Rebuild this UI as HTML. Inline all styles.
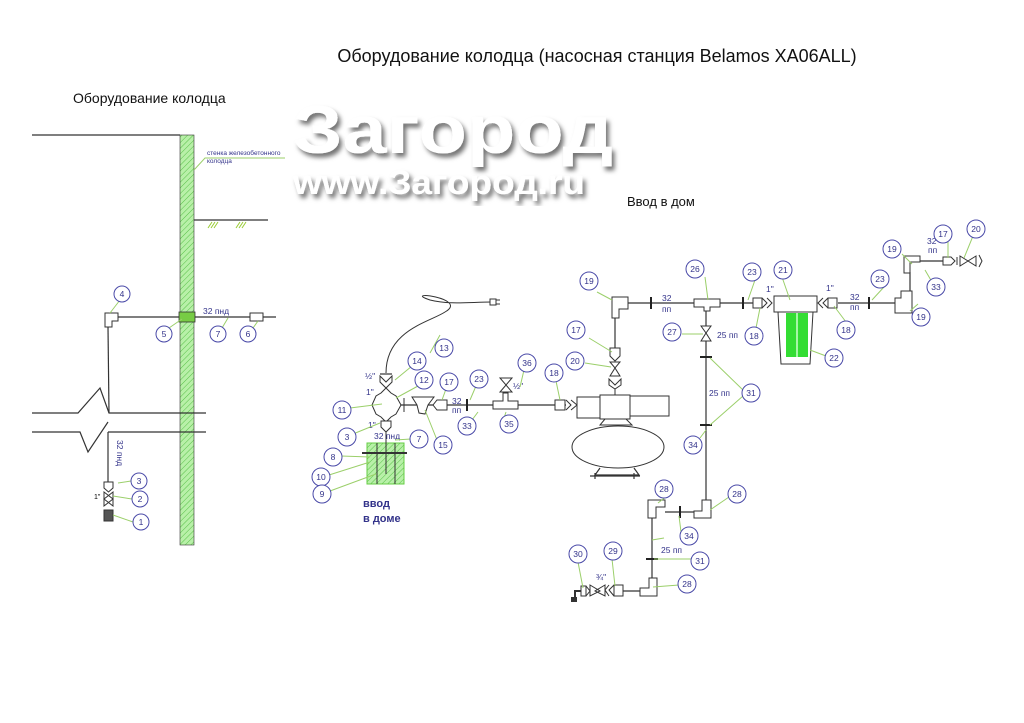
<!DOCTYPE html>
<html><head><meta charset="utf-8"><style>
body{margin:0;background:#fff}
svg{display:block}
text{font-family:"Liberation Sans",sans-serif}
.c circle{fill:#fff;stroke:#4a4aa8;stroke-width:1}
.c text{font-size:8.5px;fill:#33338a;text-anchor:middle}
.l{stroke:#9bcf6a;stroke-width:1;fill:none}
.p{stroke:#333;stroke-width:1.2;fill:none}
.f{stroke:#333;stroke-width:1;fill:#fff}
.t{font-size:8.5px;fill:#33338a}
</style></head><body>
<svg width="1024" height="723" viewBox="0 0 1024 723" xmlns="http://www.w3.org/2000/svg">
<defs>
<pattern id="h" width="4" height="4" patternUnits="userSpaceOnUse" patternTransform="rotate(45)">
<rect width="4" height="4" fill="#b8f0a8"/><line x1="0" y1="0" x2="0" y2="4" stroke="#58c048" stroke-width="1"/></pattern>
<filter id="sh"><feDropShadow dx="3" dy="4" stdDeviation="2.5" flood-color="#000" flood-opacity="0.55"/></filter>
</defs>
<text x="597" y="62" font-size="18" text-anchor="middle" fill="#111">Оборудование колодца (насосная станция Belamos XA06ALL)</text>
<text x="73" y="103" font-size="14" fill="#111">Оборудование колодца</text>
<text x="627" y="206" font-size="13" fill="#111">Ввод в дом</text>
<text x="293" y="153" font-size="68" font-weight="bold" fill="#fff" filter="url(#sh)" textLength="320" lengthAdjust="spacingAndGlyphs">Загород</text>
<text x="293" y="194" font-size="34" font-weight="bold" fill="#fff" filter="url(#sh)" textLength="292" lengthAdjust="spacingAndGlyphs">www.Загород.ru</text>

<!-- left well -->
<line class="p" x1="32" y1="135" x2="180" y2="135"/>
<rect x="180" y="135" width="14" height="410" fill="url(#h)" stroke="#333" stroke-width="0.6"/>
<text x="207" y="155" font-size="6.5" fill="#33338a">стенка железобетонного</text>
<text x="207" y="163" font-size="6.5" fill="#33338a">колодца</text>
<path class="l" d="M194 170 L205 158 L285 158"/>
<line class="p" x1="194" y1="220" x2="268" y2="220"/>
<path d="M208 228l4-6M211 228l4-6M214 228l4-6M236 228l4-6M239 228l4-6M242 228l4-6" stroke="#9c3" stroke-width="1"/>
<line class="p" x1="112" y1="317" x2="276" y2="317"/>
<rect x="179" y="312" width="16" height="10" fill="#7c4" stroke="#333" stroke-width="0.8"/>
<path class="f" d="M105 313h13v8h-6v6h-7z"/>
<rect class="f" x="250" y="313" width="13" height="8"/>
<line class="p" x1="108" y1="327" x2="109" y2="413"/>
<path class="p" d="M32 413H78L100 388L109 413H206"/>
<path class="p" d="M32 432H80L88 452L108 422"/>
<path class="p" d="M108 432H206"/>
<line class="p" x1="108" y1="432" x2="108" y2="482"/>
<text class="t" transform="translate(117 440) rotate(90)" font-size="7">32 пнд</text>
<path class="f" d="M104 482h9v6l-4.5 4l-4.5-4z"/>
<path class="f" d="M104 492l9 7l-9 7zM113 492l-9 7l9 7z"/>
<text x="94" y="499" font-size="7">1"</text>
<rect x="104" y="510" width="9" height="11" fill="#555" stroke="#333"/>
<text class="t" x="203" y="314" font-size="7">32 пнд</text>
<path class="l" d="M110 313L120 300M169 328L182 319M222 328L228 318M253 328L258 321M118 483L131 481M113 496L132 499M113 515L133 522"/>

<!-- middle -->
<path d="M386 373C386 330 430 322 445 312C470 298 400 290 430 300C450 305 470 302 492 302" stroke="#333" stroke-width="1" fill="none"/>
<rect x="490" y="299" width="6" height="6" fill="#fff" stroke="#333"/><path d="M496 300h4M496 304h4" stroke="#333"/>
<line class="p" x1="380" y1="374" x2="392" y2="374"/>
<path class="f" d="M380 376l6 6l6-6v6l-6 6l-6-6z"/>
<path class="f" d="M381 393l5-5l5 5l5 3l5 9l-5 9l-5 3l-5 5l-5-5l-5-3l-4-9l4-9z"/>
<path class="f" d="M381 421h10v6l-5 5l-5-5z"/>
<rect x="367" y="443" width="37" height="41" fill="url(#h)" stroke="#6c4"/>
<line x1="362" y1="453" x2="407" y2="453" stroke="#333" stroke-width="2"/>
<path d="M377 443v41M386 432v42M395 443v41" stroke="#333"/>
<text x="363" y="507" font-size="11" font-weight="bold" fill="#33338a">ввод</text>
<text x="363" y="522" font-size="11" font-weight="bold" fill="#33338a">в доме</text>
<text class="t" x="365" y="379" font-size="7">½"</text>
<text class="t" x="366" y="395" font-size="7">1"</text>
<text class="t" x="368" y="428" font-size="7">1"</text>
<text class="t" x="374" y="439" font-size="8">32 пнд</text>
<line class="p" x1="401" y1="405" x2="577" y2="405"/>
<path d="M404 398v14" stroke="#333"/>
<path class="f" d="M412 397h22l-6 8l-3 9l-6-1l-2-8z"/>
<path class="f" d="M437 400h10v10h-10l-4-5z"/>
<text class="t" x="452" y="404">32</text><text class="t" x="452" y="413">пп</text>
<line x1="467" y1="399" x2="467" y2="411" stroke="#222" stroke-width="2"/>
<path class="f" d="M493 401h10v-8h5v8h10v8h-25z"/>
<path class="f" d="M500 378l6 7l6-7zM500 392l6-7l6 7z"/>
<text class="t" x="513" y="389" font-size="7">½"</text>
<path class="f" d="M555 400h10v10h-10z M566 400l5 5l-5 5M571 400l6 5l-6 5"/>
<rect class="f" x="577" y="397" width="23" height="21"/>
<rect class="f" x="600" y="395" width="30" height="24"/>
<path class="f" d="M630 396h39v20h-39z"/>
<path class="f" d="M605 419l-5 6h32l-6-6z"/>
<ellipse class="f" cx="618" cy="447" rx="46" ry="21"/>
<path class="p" d="M600 468l-5 7h44l-5-7M590 476h50M595 473v6M634 473v6"/>
<line class="p" x1="615" y1="318" x2="615" y2="348"/>
<path class="f" d="M610 348h10v8l-5 5l-5-5z"/>
<path class="f" d="M610 362l5 6l5-6zM610 376l5-8l5 8z"/>
<path class="f" d="M609 379l6 6l6-6v6l-6 4l-6-4z"/>
<path d="M615 389v6" stroke="#333"/>
<!-- right piping -->
<path class="f" d="M612 297h16v12h-9v9h-7z"/>
<line class="p" x1="628" y1="303" x2="695" y2="303"/>
<line x1="651" y1="297" x2="651" y2="309" stroke="#222" stroke-width="2"/>
<text class="t" x="662" y="301">32</text><text class="t" x="662" y="312">пп</text>
<path class="f" d="M694 299h26v8h-10v4h-6v-4h-10z"/>
<line class="p" x1="720" y1="303" x2="753" y2="303"/>
<line x1="743" y1="297" x2="743" y2="309" stroke="#222" stroke-width="2"/>
<path class="f" d="M753 298h9v10h-9z M762 298l5 5l-5 5M767 298l5 5l-5 5"/>
<text class="t" x="766" y="292">1"</text>
<rect class="f" x="774" y="296" width="43" height="16"/>
<path class="f" d="M778 312h35l-3 52h-29z"/>
<rect x="786" y="313" width="22" height="44" fill="#33dd33"/>
<line x1="797" y1="313" x2="797" y2="357" stroke="#cfc" stroke-width="1.5"/>
<path class="f" d="M828 298h9v10h-9z M828 298l-5 5l5 5M823 298l-5 5l5 5"/>
<text class="t" x="826" y="291">1"</text>
<line class="p" x1="838" y1="303" x2="897" y2="303"/>
<line x1="869" y1="297" x2="869" y2="309" stroke="#222" stroke-width="2"/>
<text class="t" x="850" y="300">32</text><text class="t" x="850" y="310">пп</text>
<path class="f" d="M895 298h6v-7h11v22h-17z"/>
<line class="p" x1="910" y1="291" x2="910" y2="272"/>
<path class="f" d="M904 256h16v6h-10v11h-6z"/>
<line class="p" x1="920" y1="261" x2="943" y2="261"/>
<text class="t" x="927" y="244">32</text><text class="t" x="928" y="253">пп</text>
<path class="f" d="M943 257h8l4 4l-4 4h-8z"/>
<path class="f" d="M957 257v8M960 256l8 5l-8 5zM976 256l-8 5l8 5zM979 255l3 6l-3 6"/>
<line class="p" x1="706" y1="311" x2="706" y2="326"/>
<path class="f" d="M701 326l5 7l5-7zM701 341l5-8l5 8z"/>
<text class="t" x="717" y="338">25 пп</text>
<line class="p" x1="706" y1="341" x2="706" y2="502"/>
<line x1="700" y1="357" x2="712" y2="357" stroke="#222" stroke-width="2"/>
<line x1="700" y1="425" x2="712" y2="425" stroke="#222" stroke-width="2"/>
<text class="t" x="709" y="396">25 пп</text>
<path class="f" d="M702 500h9v18h-17v-7h8z"/>
<line class="p" x1="665" y1="512" x2="694" y2="512"/>
<line x1="680" y1="506" x2="680" y2="518" stroke="#222" stroke-width="2"/>
<path class="f" d="M648 500h17v7h-9v11h-8z"/>
<line class="p" x1="652" y1="518" x2="652" y2="578"/>
<line x1="646" y1="559" x2="658" y2="559" stroke="#222" stroke-width="2"/>
<text class="t" x="661" y="553">25 пп</text>
<path class="f" d="M649 578h8v18h-17v-8h9z"/>
<line class="p" x1="623" y1="591" x2="640" y2="591"/>
<path class="f" d="M614 585h9v11h-9z M614 585l-5 5l5 6M609 585l-4 5l4 6"/>
<path class="f" d="M590 585l10 6l-10 5zM605 585l-10 6l10 5z"/>
<text class="t" x="596" y="580" font-size="7">¾"</text>
<path class="f" d="M581 586h5v10h-5z M586 586l4 5l-4 5"/>
<path d="M581 591h-6v8" stroke="#333" stroke-width="2" fill="none"/><rect x="571" y="597" width="6" height="5" fill="#333"/>

<!-- leaders -->
<g class="l">
<path d="M430 353L440 335M395 380L412 366M396 398L418 386M442 400L446 389M470 400L476 386M520 387L524 370M560 400L556 381M350 408L382 404M353 434L380 423M427 438L395 440M437 440L425 410M341 456L370 457M329 475L370 462M330 491L376 474"/>
<path d="M478 412L472 420M506 412L504 418M597 292L612 300M705 277L708 300M755 280L748 300M782 277L790 300M884 287L872 300M902 254L912 264M948 242L948 258M973 236L964 258M925 270L932 282M918 304L910 311M756 328L760 308M846 322L834 306M682 334L703 334M826 356L810 350M743 390L710 358M743 396L710 425M700 438L706 430M672 492L658 503M729 497L710 510M681 532L679 516M664 538L652 540M692 559L654 559M679 585L653 587M612 559L615 586M578 562L583 588M589 338L612 352M585 363L611 367"/>
</g>
<g class="c">
<circle cx="122" cy="294" r="8"/><text x="122" y="297">4</text>
<circle cx="164" cy="334" r="8"/><text x="164" y="337">5</text>
<circle cx="218" cy="334" r="8"/><text x="218" y="337">7</text>
<circle cx="248" cy="334" r="8"/><text x="248" y="337">6</text>
<circle cx="139" cy="481" r="8"/><text x="139" y="484">3</text>
<circle cx="140" cy="499" r="8"/><text x="140" y="502">2</text>
<circle cx="141" cy="522" r="8"/><text x="141" y="525">1</text>
<circle cx="444" cy="348" r="9"/><text x="444" y="351">13</text>
<circle cx="417" cy="361" r="9"/><text x="417" y="364">14</text>
<circle cx="424" cy="380" r="9"/><text x="424" y="383">12</text>
<circle cx="449" cy="382" r="9"/><text x="449" y="385">17</text>
<circle cx="479" cy="379" r="9"/><text x="479" y="382">23</text>
<circle cx="527" cy="363" r="9"/><text x="527" y="366">36</text>
<circle cx="554" cy="373" r="9"/><text x="554" y="376">18</text>
<circle cx="342" cy="410" r="9"/><text x="342" y="413">11</text>
<circle cx="347" cy="437" r="9"/><text x="347" y="440">3</text>
<circle cx="419" cy="439" r="9"/><text x="419" y="442">7</text>
<circle cx="443" cy="445" r="9"/><text x="443" y="448">15</text>
<circle cx="467" cy="426" r="9"/><text x="467" y="429">33</text>
<circle cx="509" cy="424" r="9"/><text x="509" y="427">35</text>
<circle cx="333" cy="457" r="9"/><text x="333" y="460">8</text>
<circle cx="321" cy="477" r="9"/><text x="321" y="480">10</text>
<circle cx="322" cy="494" r="9"/><text x="322" y="497">9</text>
<circle cx="589" cy="281" r="9"/><text x="589" y="284">19</text>
<circle cx="695" cy="269" r="9"/><text x="695" y="272">26</text>
<circle cx="752" cy="272" r="9"/><text x="752" y="275">23</text>
<circle cx="783" cy="270" r="9"/><text x="783" y="273">21</text>
<circle cx="880" cy="279" r="9"/><text x="880" y="282">23</text>
<circle cx="892" cy="249" r="9"/><text x="892" y="252">19</text>
<circle cx="943" cy="234" r="9"/><text x="943" y="237">17</text>
<circle cx="976" cy="229" r="9"/><text x="976" y="232">20</text>
<circle cx="936" cy="287" r="9"/><text x="936" y="290">33</text>
<circle cx="921" cy="317" r="9"/><text x="921" y="320">19</text>
<circle cx="754" cy="336" r="9"/><text x="754" y="339">18</text>
<circle cx="846" cy="330" r="9"/><text x="846" y="333">18</text>
<circle cx="672" cy="332" r="9"/><text x="672" y="335">27</text>
<circle cx="834" cy="358" r="9"/><text x="834" y="361">22</text>
<circle cx="751" cy="393" r="9"/><text x="751" y="396">31</text>
<circle cx="693" cy="445" r="9"/><text x="693" y="448">34</text>
<circle cx="664" cy="489" r="9"/><text x="664" y="492">28</text>
<circle cx="737" cy="494" r="9"/><text x="737" y="497">28</text>
<circle cx="689" cy="536" r="9"/><text x="689" y="539">34</text>
<circle cx="700" cy="561" r="9"/><text x="700" y="564">31</text>
<circle cx="687" cy="584" r="9"/><text x="687" y="587">28</text>
<circle cx="613" cy="551" r="9"/><text x="613" y="554">29</text>
<circle cx="578" cy="554" r="9"/><text x="578" y="557">30</text>
<circle cx="576" cy="330" r="9"/><text x="576" y="333">17</text>
<circle cx="575" cy="361" r="9"/><text x="575" y="364">20</text>
</g>
</svg>
</body></html>
